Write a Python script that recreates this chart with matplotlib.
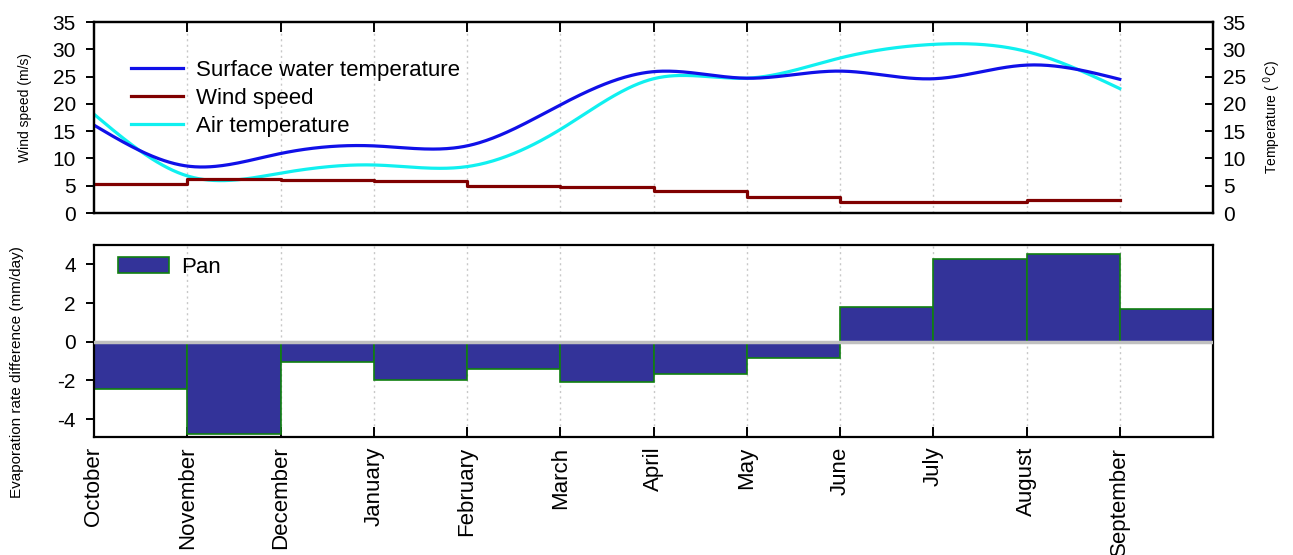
import numpy as np
import matplotlib
matplotlib.use("Agg")
import matplotlib.pyplot as plt

plt.rcParams['font.family'] = ['Liberation Sans', 'DejaVu Sans']
plt.rcParams['axes.unicode_minus'] = False

months = ["October", "November", "December", "January", "February", "March",
          "April", "May", "June", "July", "August", "September"]
water_temp = [16.1, 8.6, 10.9, 12.3, 12.3, 19.8, 25.9, 24.7, 26.0, 24.6, 27.1, 24.5]
air_temp = [18.1, 6.8, 7.3, 8.8, 8.5, 15.3, 24.6, 24.7, 28.4, 30.9, 29.6, 22.8]
wind_speed = [5.3, 6.2, 6.1, 5.9, 5.0, 4.7, 4.1, 2.9, 2.1, 2.0, 2.3, 2.3]
pan_diff = [-2.44, -4.75, -1.04, -1.99, -1.43, -2.06, -1.64, -0.85, 1.78, 4.29, 4.53, 1.71]


def natural_spline(x, y, xs):
    x = np.asarray(x, float)
    y = np.asarray(y, float)
    n = len(x)
    h = np.diff(x)
    A = np.zeros((n, n))
    b = np.zeros(n)
    A[0, 0] = 1.0
    A[-1, -1] = 1.0
    for i in range(1, n - 1):
        A[i, i - 1] = h[i - 1]
        A[i, i] = 2 * (h[i - 1] + h[i])
        A[i, i + 1] = h[i]
        b[i] = 3 * ((y[i + 1] - y[i]) / h[i] - (y[i] - y[i - 1]) / h[i - 1])
    c = np.linalg.solve(A, b)
    bb = (y[1:] - y[:-1]) / h - h * (2 * c[:-1] + c[1:]) / 3
    d = (c[1:] - c[:-1]) / (3 * h)
    idx = np.clip(np.searchsorted(x, xs) - 1, 0, n - 2)
    dx = xs - x[idx]
    return y[idx] + bb[idx] * dx + c[idx] * dx ** 2 + d[idx] * dx ** 3


W, H = 1293, 555
fig = plt.figure(figsize=(W / 100, H / 100), dpi=100)

ax1 = fig.add_axes([94 / W, 1 - 213 / H, 1119 / W, 191 / H])
ax2 = fig.add_axes([94 / W, 1 - 437 / H, 1119 / W, 192 / H])

xm = np.arange(len(months))
xs = np.linspace(0, len(months) - 1, 600)

blue = '#1010E8'
cyan = '#10F0F0'
red = '#800000'

ax1.plot(xs, natural_spline(xm, water_temp, xs), color=blue, lw=2.3,
         label='Surface water temperature', zorder=3)
ax1.plot(xm, wind_speed, color=red, lw=2.3, drawstyle='steps-post',
         label='Wind speed', zorder=3)
ax1.plot(xs, natural_spline(xm, air_temp, xs), color=cyan, lw=2.3,
         label='Air temperature', zorder=2)

for ax in (ax1, ax2):
    ax.set_xlim(0, 12)
    ax.set_xticks(xm)
    for xv in xm[1:]:
        ax.axvline(xv, color='#c8c8c8', lw=1, ls=(0, (1.5, 2.5)), zorder=0)
    for s in ax.spines.values():
        s.set_linewidth(1.6)

ax1.set_ylim(0, 35)
ax1.set_yticks(np.arange(0, 36, 5))
ax1.tick_params(axis='y', direction='out', length=6, width=1.4, labelsize=15, pad=7)
ax1.tick_params(axis='x', direction='in', length=7, width=1.4, top=True, bottom=False,
                labeltop=False, labelbottom=False)

axr = ax1.twinx()
axr.set_ylim(0, 35)
axr.set_yticks(np.arange(0, 36, 5))
axr.tick_params(axis='y', direction='in', length=6, width=1.4, labelsize=15, pad=7)
for s in axr.spines.values():
    s.set_linewidth(1.6)

leg1 = ax1.legend(loc='upper left', bbox_to_anchor=(0.033, 0.80), frameon=False,
                  fontsize=16, handlelength=2.35, handletextpad=0.6,
                  labelspacing=0.31, borderpad=0, borderaxespad=0)

ax2.bar(xm, pan_diff, width=1.0, align='edge', color='#333399',
        edgecolor='#108010', linewidth=1.2, label='Pan', zorder=2)
ax2.axhline(0, color='#c0c0c0', lw=2.5, zorder=3)
ax2.set_ylim(-4.92, 5.0)
ax2.set_yticks([-4, -2, 0, 2, 4])
ax2.tick_params(axis='y', direction='out', length=6, width=1.4, labelsize=15, pad=7)
ax2.tick_params(axis='x', direction='in', length=7, width=1.4, labelsize=16, pad=7)
ax2.set_xticklabels(months, rotation=90, ha='center', va='top')
ax2.legend(loc='upper left', bbox_to_anchor=(0.0214, 0.94), frameon=False,
           fontsize=16, handlelength=2.3, handleheight=0.77, handletextpad=0.55,
           borderpad=0, borderaxespad=0)

fig.text(25 / W, 1 - 108 / H, 'Wind speed (m/s)', rotation=90, ha='center',
         va='center', fontsize=10)
fig.text(17 / W, 1 - 372 / H, 'Evaporation rate difference (mm/day)', rotation=90,
         ha='center', va='center', fontsize=11)
fig.text(1272 / W, 1 - 117 / H, r'Temperature ( $^{0}$C)', rotation=90, ha='center',
         va='center', fontsize=10)

fig.savefig('out.png', dpi=100)
